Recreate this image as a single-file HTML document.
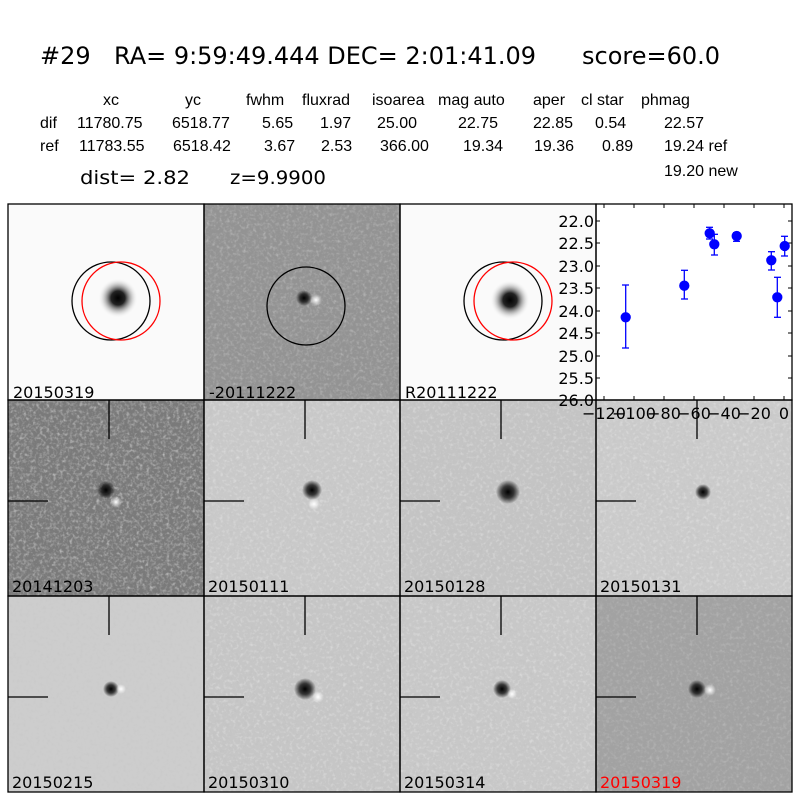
<!DOCTYPE html>
<html><head><meta charset="utf-8"><style>
html,body{margin:0;padding:0;background:#fff;}
svg{display:block;font-family:"Liberation Sans","DejaVu Sans",sans-serif;}
.dv{font-family:"DejaVu Sans",sans-serif;}
</style></head><body>
<svg width="800" height="800" viewBox="0 0 800 800" xmlns="http://www.w3.org/2000/svg">
<defs>
<filter id="n" x="0" y="0" width="100%" height="100%">
<feTurbulence type="fractalNoise" baseFrequency="0.3" numOctaves="2" seed="3"/>
<feColorMatrix type="matrix" values="0 0 0 0 0.5  0 0 0 0 0.5  0 0 0 0 0.5  1.6 0 0 0 -0.8"/>
</filter>
<filter id="n2" x="0" y="0" width="100%" height="100%">
<feTurbulence type="fractalNoise" baseFrequency="0.3" numOctaves="2" seed="7"/>
<feColorMatrix type="matrix" values="0 0 0 0 1  0 0 0 0 1  0 0 0 0 1  1.6 0 0 0 -0.8"/>
</filter>
<radialGradient id="blob"><stop offset="0" stop-color="#000"/><stop offset="0.35" stop-color="#222"/><stop offset="1" stop-color="#fff" stop-opacity="0"/></radialGradient>
<radialGradient id="dot"><stop offset="0" stop-color="#000"/><stop offset="0.5" stop-color="#111" stop-opacity="0.8"/><stop offset="1" stop-color="#000" stop-opacity="0"/></radialGradient>
<radialGradient id="wdot"><stop offset="0" stop-color="#fff"/><stop offset="1" stop-color="#fff" stop-opacity="0"/></radialGradient>
</defs>
<g font-size="24" fill="#000" class="dv">
<text x="40" y="64">#29</text>
<text x="114" y="64" textLength="422" lengthAdjust="spacingAndGlyphs">RA= 9:59:49.444 DEC= 2:01:41.09</text>
<text x="582" y="64" textLength="138" lengthAdjust="spacingAndGlyphs">score=60.0</text>
</g>
<g font-size="16" fill="#000">
<text x="103" y="105">xc</text><text x="185" y="105">yc</text><text x="246" y="105">fwhm</text><text x="302" y="105">fluxrad</text><text x="372" y="105">isoarea</text><text x="438" y="105">mag auto</text><text x="533" y="105">aper</text><text x="581" y="105">cl star</text><text x="641" y="105">phmag</text>
<text x="40" y="128">dif</text><text x="77" y="128">11780.75</text><text x="172" y="128">6518.77</text><text x="262" y="128">5.65</text><text x="320" y="128">1.97</text><text x="377" y="128">25.00</text><text x="458" y="128">22.75</text><text x="533" y="128">22.85</text><text x="595" y="128">0.54</text><text x="664" y="128">22.57</text>
<text x="40" y="151">ref</text><text x="79" y="151">11783.55</text><text x="173" y="151">6518.42</text><text x="264" y="151">3.67</text><text x="321" y="151">2.53</text><text x="380" y="151">366.00</text><text x="463" y="151">19.34</text><text x="534" y="151">19.36</text><text x="602" y="151">0.89</text><text x="664" y="151">19.24 ref</text>
<text x="664" y="176">19.20 new</text>
<text x="80" y="184" font-size="19" class="dv" textLength="110" lengthAdjust="spacingAndGlyphs">dist=  2.82</text><text x="230" y="184" font-size="19" class="dv" textLength="96" lengthAdjust="spacingAndGlyphs">z=9.9900</text>
</g>
<!-- row1 -->
<rect x="8" y="204" width="196" height="196" fill="#fafafa"/>
<circle cx="118" cy="298" r="20" fill="url(#blob)"/>
<circle cx="111" cy="301" r="39" fill="none" stroke="#000" stroke-width="1.3"/>
<circle cx="121" cy="301" r="39" fill="none" stroke="#f00" stroke-width="1.3"/>
<rect x="204" y="204" width="196" height="196" fill="#939393"/>
<rect x="204" y="204" width="196" height="196" filter="url(#n)" opacity="0.6"/>
<rect x="204" y="204" width="196" height="196" filter="url(#n2)" opacity="0.4"/>
<circle cx="304" cy="298" r="8" fill="url(#dot)"/><circle cx="316" cy="300" r="6" fill="url(#wdot)"/>
<circle cx="306" cy="306" r="39" fill="none" stroke="#000" stroke-width="1.3"/>
<rect x="400" y="204" width="196" height="196" fill="#fafafa"/>
<circle cx="510" cy="300" r="20" fill="url(#blob)"/>
<circle cx="503" cy="301" r="39" fill="none" stroke="#000" stroke-width="1.3"/>
<circle cx="513" cy="301" r="39" fill="none" stroke="#f00" stroke-width="1.3"/>
<rect x="596" y="204" width="196" height="196" fill="#fff"/>
<!-- row2 -->
<rect x="8" y="400" width="196" height="196" fill="#7a7a7a"/>
<rect x="8" y="400" width="196" height="196" filter="url(#n)"/>
<rect x="8" y="400" width="196" height="196" filter="url(#n2)" opacity="0.6"/>
<rect x="204" y="400" width="196" height="196" fill="#c9c9c9"/>
<rect x="204" y="400" width="196" height="196" filter="url(#n)" opacity="0.5"/>
<rect x="204" y="400" width="196" height="196" filter="url(#n2)" opacity="0.5"/>
<rect x="400" y="400" width="196" height="196" fill="#c4c4c4"/>
<rect x="400" y="400" width="196" height="196" filter="url(#n)" opacity="0.5"/>
<rect x="400" y="400" width="196" height="196" filter="url(#n2)" opacity="0.5"/>
<rect x="596" y="400" width="196" height="196" fill="#cbcbcb"/>
<rect x="596" y="400" width="196" height="196" filter="url(#n)" opacity="0.5"/>
<rect x="596" y="400" width="196" height="196" filter="url(#n2)" opacity="0.5"/>
<!-- row3 -->
<rect x="8" y="596" width="196" height="196" fill="#cdcdcd"/>
<rect x="8" y="596" width="196" height="196" filter="url(#n)" opacity="0.35"/>
<rect x="204" y="596" width="196" height="196" fill="#c6c6c6"/>
<rect x="204" y="596" width="196" height="196" filter="url(#n)" opacity="0.5"/>
<rect x="204" y="596" width="196" height="196" filter="url(#n2)" opacity="0.5"/>
<rect x="400" y="596" width="196" height="196" fill="#c8c8c8"/>
<rect x="400" y="596" width="196" height="196" filter="url(#n)" opacity="0.5"/>
<rect x="400" y="596" width="196" height="196" filter="url(#n2)" opacity="0.5"/>
<rect x="596" y="596" width="196" height="196" fill="#a2a2a2"/>
<rect x="596" y="596" width="196" height="196" filter="url(#n)" opacity="0.4"/>
<rect x="596" y="596" width="196" height="196" filter="url(#n2)" opacity="0.3"/>
<g>
<circle cx="106" cy="490" r="9" fill="url(#dot)"/><circle cx="116" cy="502" r="6" fill="url(#wdot)"/>
<circle cx="312" cy="490" r="10" fill="url(#dot)"/><circle cx="314" cy="504" r="6" fill="url(#wdot)"/>
<circle cx="508" cy="492" r="12" fill="url(#dot)"/>
<circle cx="703" cy="492" r="8" fill="url(#dot)"/>
<circle cx="111" cy="689" r="8" fill="url(#dot)"/><circle cx="121" cy="689" r="5" fill="url(#wdot)"/>
<circle cx="305" cy="689" r="11" fill="url(#dot)"/><circle cx="318" cy="697" r="6" fill="url(#wdot)"/>
<circle cx="502" cy="689" r="9" fill="url(#dot)"/><circle cx="512" cy="694" r="5" fill="url(#wdot)"/>
<circle cx="697" cy="689" r="9" fill="url(#dot)"/><circle cx="710" cy="690" r="6" fill="url(#wdot)"/>
</g>
<!-- crosshairs -->
<g stroke="#000" stroke-width="1.3">
<line x1="109" y1="400" x2="109" y2="439"/><line x1="8" y1="501" x2="48" y2="501"/>
<line x1="305" y1="400" x2="305" y2="439"/><line x1="204" y1="501" x2="244" y2="501"/>
<line x1="501" y1="400" x2="501" y2="439"/><line x1="400" y1="501" x2="440" y2="501"/>
<line x1="697" y1="400" x2="697" y2="439"/><line x1="596" y1="501" x2="636" y2="501"/>
<line x1="109" y1="596" x2="109" y2="635"/><line x1="8" y1="697" x2="48" y2="697"/>
<line x1="305" y1="596" x2="305" y2="635"/><line x1="204" y1="697" x2="244" y2="697"/>
<line x1="501" y1="596" x2="501" y2="635"/><line x1="400" y1="697" x2="440" y2="697"/>
<line x1="697" y1="596" x2="697" y2="635"/><line x1="596" y1="697" x2="636" y2="697"/>
</g>
<!-- panel borders -->
<g fill="none" stroke="#000" stroke-width="1.3">
<rect x="8" y="204" width="196" height="196"/><rect x="204" y="204" width="196" height="196"/><rect x="400" y="204" width="196" height="196"/>
<rect x="8" y="400" width="196" height="196"/><rect x="204" y="400" width="196" height="196"/><rect x="400" y="400" width="196" height="196"/><rect x="596" y="400" width="196" height="196"/>
<rect x="8" y="596" width="196" height="196"/><rect x="204" y="596" width="196" height="196"/><rect x="400" y="596" width="196" height="196"/><rect x="596" y="596" width="196" height="196"/>
</g>
<g font-size="16" class="dv">
<text x="13" y="398">20150319</text><text x="209" y="398">-20111222</text><text x="405" y="398">R20111222</text>
<text x="12" y="592">20141203</text><text x="208" y="592">20150111</text><text x="404" y="592">20150128</text><text x="600" y="592">20150131</text>
<text x="12" y="788">20150215</text><text x="208" y="788">20150310</text><text x="404" y="788">20150314</text><text x="600" y="788" fill="#f00">20150319</text>
</g>
<!-- plot -->
<g stroke="#000" stroke-width="1">
<rect x="596" y="204" width="196" height="196" fill="none" stroke-width="1.3"/>
<line x1="596" y1="221" x2="600" y2="221"/><line x1="596" y1="243" x2="600" y2="243"/><line x1="596" y1="266" x2="600" y2="266"/><line x1="596" y1="288" x2="600" y2="288"/><line x1="596" y1="311" x2="600" y2="311"/><line x1="596" y1="333" x2="600" y2="333"/><line x1="596" y1="356" x2="600" y2="356"/><line x1="596" y1="378" x2="600" y2="378"/>
<line x1="792" y1="221" x2="788" y2="221"/><line x1="792" y1="243" x2="788" y2="243"/><line x1="792" y1="266" x2="788" y2="266"/><line x1="792" y1="288" x2="788" y2="288"/><line x1="792" y1="311" x2="788" y2="311"/><line x1="792" y1="333" x2="788" y2="333"/><line x1="792" y1="356" x2="788" y2="356"/><line x1="792" y1="378" x2="788" y2="378"/>
<line x1="604" y1="400" x2="604" y2="396"/><line x1="634" y1="400" x2="634" y2="396"/><line x1="664" y1="400" x2="664" y2="396"/><line x1="694" y1="400" x2="694" y2="396"/><line x1="724" y1="400" x2="724" y2="396"/><line x1="754" y1="400" x2="754" y2="396"/><line x1="784" y1="400" x2="784" y2="396"/>
<line x1="604" y1="204" x2="604" y2="208"/><line x1="634" y1="204" x2="634" y2="208"/><line x1="664" y1="204" x2="664" y2="208"/><line x1="694" y1="204" x2="694" y2="208"/><line x1="724" y1="204" x2="724" y2="208"/><line x1="754" y1="204" x2="754" y2="208"/><line x1="784" y1="204" x2="784" y2="208"/>
</g>
<g font-size="16" text-anchor="end" class="dv">
<text x="594" y="227">22.0</text><text x="594" y="249">22.5</text><text x="594" y="272">23.0</text><text x="594" y="294">23.5</text><text x="594" y="317">24.0</text><text x="594" y="339">24.5</text><text x="594" y="362">25.0</text><text x="594" y="384">25.5</text><text x="594" y="406">26.0</text>
</g>
<g font-size="16" text-anchor="middle" class="dv">
<text x="604" y="419">−120</text><text x="634" y="419">−100</text><text x="664" y="419">−80</text><text x="694" y="419">−60</text><text x="724" y="419">−40</text><text x="754" y="419">−20</text><text x="784" y="419">0</text>
</g>
<g stroke="#00f" stroke-width="1.3" fill="#00f">
<line x1="625.7" y1="285" x2="625.7" y2="348"/><line x1="622" y1="285" x2="629" y2="285"/><line x1="622" y1="348" x2="629" y2="348"/><circle cx="625.7" cy="317.3" r="4.5"/>
<line x1="684.3" y1="270.3" x2="684.3" y2="299"/><line x1="681" y1="270.3" x2="688" y2="270.3"/><line x1="681" y1="299" x2="688" y2="299"/><circle cx="684.3" cy="285.7" r="4.5"/>
<line x1="709.7" y1="227.3" x2="709.7" y2="239"/><line x1="706" y1="227.3" x2="713" y2="227.3"/><line x1="706" y1="239" x2="713" y2="239"/><circle cx="709.7" cy="233.3" r="4.5"/>
<line x1="714.3" y1="234.3" x2="714.3" y2="255"/><line x1="711" y1="234.3" x2="718" y2="234.3"/><line x1="711" y1="255" x2="718" y2="255"/><circle cx="714.3" cy="244.3" r="4.5"/>
<line x1="736.7" y1="232.7" x2="736.7" y2="241.3"/><line x1="733" y1="232.7" x2="740" y2="232.7"/><line x1="733" y1="241.3" x2="740" y2="241.3"/><circle cx="736.7" cy="236" r="4.5"/>
<line x1="771.3" y1="251.7" x2="771.3" y2="270"/><line x1="768" y1="251.7" x2="775" y2="251.7"/><line x1="768" y1="270" x2="775" y2="270"/><circle cx="771.3" cy="260.3" r="4.5"/>
<line x1="777.3" y1="277.3" x2="777.3" y2="317.3"/><line x1="774" y1="277.3" x2="781" y2="277.3"/><line x1="774" y1="317.3" x2="781" y2="317.3"/><circle cx="777.3" cy="297.3" r="4.5"/>
<line x1="784.7" y1="236.3" x2="784.7" y2="256"/><line x1="781" y1="236.3" x2="788" y2="236.3"/><line x1="781" y1="256" x2="788" y2="256"/><circle cx="784.7" cy="246" r="4.5"/>
</g>
</svg>
</body></html>
